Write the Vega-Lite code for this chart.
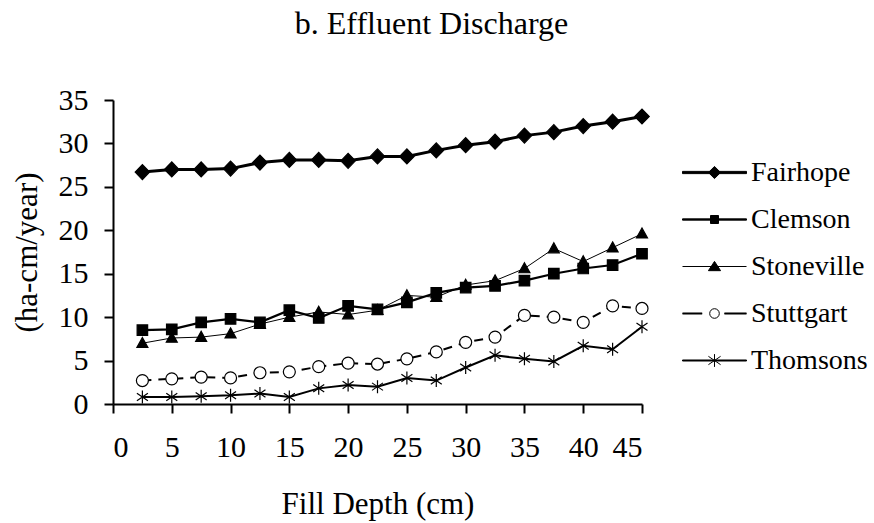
{
  "$schema": "https://vega.github.io/schema/vega-lite/v6.json",
  "width": 529,
  "height": 304,
  "autosize": "none",
  "padding": {"left": 113, "top": 100, "right": 232, "bottom": 119},
  "background": "white",
  "config": {
    "view": {"stroke": null},
    "font": "Liberation Serif",
    "axis": {
      "grid": false,
      "domainColor": "black",
      "domainWidth": 2,
      "tickColor": "black",
      "tickWidth": 2,
      "tickSize": 9,
      "labelFont": "Liberation Serif",
      "labelFontSize": 30,
      "labelColor": "black",
      "titleFont": "Liberation Serif",
      "titleFontSize": 31,
      "titleFontWeight": "normal",
      "titleColor": "black"
    },
    "legend": {
      "title": null,
      "orient": "none",
      "legendX": 569,
      "legendY": 40,
      "padding": 0,
      "symbolSize": 4096,
      "symbolStrokeWidth": 1,
      "symbolOpacity": 1,
      "labelFont": "Liberation Serif",
      "labelFontSize": 28,
      "labelColor": "black",
      "labelOffset": 4,
      "rowPadding": -12
    }
  },
  "title": {
    "text": "b. Effluent Discharge",
    "font": "Liberation Serif",
    "fontSize": 32,
    "fontWeight": "normal",
    "color": "black",
    "anchor": "middle",
    "baseline": "alphabetic",
    "dx": 54,
    "offset": 19
  },
  "data": {
    "values": [
      {"site": "Fairhope", "depth": 2.5, "discharge": 26.7},
      {"site": "Fairhope", "depth": 5, "discharge": 27.0},
      {"site": "Fairhope", "depth": 7.5, "discharge": 27.0},
      {"site": "Fairhope", "depth": 10, "discharge": 27.1},
      {"site": "Fairhope", "depth": 12.5, "discharge": 27.8},
      {"site": "Fairhope", "depth": 15, "discharge": 28.1},
      {"site": "Fairhope", "depth": 17.5, "discharge": 28.1},
      {"site": "Fairhope", "depth": 20, "discharge": 28.0},
      {"site": "Fairhope", "depth": 22.5, "discharge": 28.5},
      {"site": "Fairhope", "depth": 25, "discharge": 28.5},
      {"site": "Fairhope", "depth": 27.5, "discharge": 29.2},
      {"site": "Fairhope", "depth": 30, "discharge": 29.8},
      {"site": "Fairhope", "depth": 32.5, "discharge": 30.2},
      {"site": "Fairhope", "depth": 35, "discharge": 30.9},
      {"site": "Fairhope", "depth": 37.5, "discharge": 31.3},
      {"site": "Fairhope", "depth": 40, "discharge": 32.0},
      {"site": "Fairhope", "depth": 42.5, "discharge": 32.5},
      {"site": "Fairhope", "depth": 45, "discharge": 33.1},
      {"site": "Clemson", "depth": 2.5, "discharge": 8.5},
      {"site": "Clemson", "depth": 5, "discharge": 8.6},
      {"site": "Clemson", "depth": 7.5, "discharge": 9.4},
      {"site": "Clemson", "depth": 10, "discharge": 9.8},
      {"site": "Clemson", "depth": 12.5, "discharge": 9.4},
      {"site": "Clemson", "depth": 15, "discharge": 10.8},
      {"site": "Clemson", "depth": 17.5, "discharge": 9.9},
      {"site": "Clemson", "depth": 20, "discharge": 11.3},
      {"site": "Clemson", "depth": 22.5, "discharge": 10.9},
      {"site": "Clemson", "depth": 25, "discharge": 11.7},
      {"site": "Clemson", "depth": 27.5, "discharge": 12.8},
      {"site": "Clemson", "depth": 30, "discharge": 13.4},
      {"site": "Clemson", "depth": 32.5, "discharge": 13.6},
      {"site": "Clemson", "depth": 35, "discharge": 14.2},
      {"site": "Clemson", "depth": 37.5, "discharge": 15.0},
      {"site": "Clemson", "depth": 40, "discharge": 15.6},
      {"site": "Clemson", "depth": 42.5, "discharge": 16.0},
      {"site": "Clemson", "depth": 45, "discharge": 17.3},
      {"site": "Stoneville", "depth": 2.5, "discharge": 7.0},
      {"site": "Stoneville", "depth": 5, "discharge": 7.6},
      {"site": "Stoneville", "depth": 7.5, "discharge": 7.7},
      {"site": "Stoneville", "depth": 10, "discharge": 8.1},
      {"site": "Stoneville", "depth": 12.5, "discharge": 9.2},
      {"site": "Stoneville", "depth": 15, "discharge": 10.0},
      {"site": "Stoneville", "depth": 17.5, "discharge": 10.6},
      {"site": "Stoneville", "depth": 20, "discharge": 10.3},
      {"site": "Stoneville", "depth": 22.5, "discharge": 10.8},
      {"site": "Stoneville", "depth": 25, "discharge": 12.5},
      {"site": "Stoneville", "depth": 27.5, "discharge": 12.3},
      {"site": "Stoneville", "depth": 30, "discharge": 13.7},
      {"site": "Stoneville", "depth": 32.5, "discharge": 14.2},
      {"site": "Stoneville", "depth": 35, "discharge": 15.6},
      {"site": "Stoneville", "depth": 37.5, "discharge": 17.9},
      {"site": "Stoneville", "depth": 40, "discharge": 16.4},
      {"site": "Stoneville", "depth": 42.5, "discharge": 18.0},
      {"site": "Stoneville", "depth": 45, "discharge": 19.6},
      {"site": "Stuttgart", "depth": 2.5, "discharge": 2.7},
      {"site": "Stuttgart", "depth": 5, "discharge": 2.9},
      {"site": "Stuttgart", "depth": 7.5, "discharge": 3.1},
      {"site": "Stuttgart", "depth": 10, "discharge": 3.0},
      {"site": "Stuttgart", "depth": 12.5, "discharge": 3.6},
      {"site": "Stuttgart", "depth": 15, "discharge": 3.7},
      {"site": "Stuttgart", "depth": 17.5, "discharge": 4.3},
      {"site": "Stuttgart", "depth": 20, "discharge": 4.7},
      {"site": "Stuttgart", "depth": 22.5, "discharge": 4.6},
      {"site": "Stuttgart", "depth": 25, "discharge": 5.2},
      {"site": "Stuttgart", "depth": 27.5, "discharge": 6.0},
      {"site": "Stuttgart", "depth": 30, "discharge": 7.1},
      {"site": "Stuttgart", "depth": 32.5, "discharge": 7.7},
      {"site": "Stuttgart", "depth": 35, "discharge": 10.2},
      {"site": "Stuttgart", "depth": 37.5, "discharge": 10.0},
      {"site": "Stuttgart", "depth": 40, "discharge": 9.4},
      {"site": "Stuttgart", "depth": 42.5, "discharge": 11.3},
      {"site": "Stuttgart", "depth": 45, "discharge": 11.0},
      {"site": "Thomsons", "depth": 2.5, "discharge": 0.8},
      {"site": "Thomsons", "depth": 5, "discharge": 0.8},
      {"site": "Thomsons", "depth": 7.5, "discharge": 0.9},
      {"site": "Thomsons", "depth": 10, "discharge": 1.0},
      {"site": "Thomsons", "depth": 12.5, "discharge": 1.2},
      {"site": "Thomsons", "depth": 15, "discharge": 0.8},
      {"site": "Thomsons", "depth": 17.5, "discharge": 1.8},
      {"site": "Thomsons", "depth": 20, "discharge": 2.2},
      {"site": "Thomsons", "depth": 22.5, "discharge": 2.0},
      {"site": "Thomsons", "depth": 25, "discharge": 3.0},
      {"site": "Thomsons", "depth": 27.5, "discharge": 2.7},
      {"site": "Thomsons", "depth": 30, "discharge": 4.2},
      {"site": "Thomsons", "depth": 32.5, "discharge": 5.6},
      {"site": "Thomsons", "depth": 35, "discharge": 5.2},
      {"site": "Thomsons", "depth": 37.5, "discharge": 4.9},
      {"site": "Thomsons", "depth": 40, "discharge": 6.7},
      {"site": "Thomsons", "depth": 42.5, "discharge": 6.3},
      {"site": "Thomsons", "depth": 45, "discharge": 8.9}
    ]
  },
  "encoding": {
    "x": {
      "field": "depth",
      "type": "quantitative",
      "scale": {"domain": [0, 45], "nice": false, "zero": false},
      "axis": {
        "values": [0, 5, 10, 15, 20, 25, 30, 35, 40, 45],
        "labelPadding": 19,
        "title": "Fill Depth (cm)",
        "titlePadding": 27
      }
    },
    "y": {
      "field": "discharge",
      "type": "quantitative",
      "scale": {"domain": [0, 35], "nice": false},
      "axis": {
        "values": [0, 5, 10, 15, 20, 25, 30, 35],
        "labelPadding": 16,
        "title": "(ha-cm/year)",
        "titlePadding": 15
      }
    }
  },
  "layer": [
    {
      "transform": [{"filter": "datum.site === 'Fairhope'"}],
      "mark": {"type": "line", "color": "black", "strokeWidth": 3}
    },
    {
      "transform": [{"filter": "datum.site === 'Clemson'"}],
      "mark": {"type": "line", "color": "black", "strokeWidth": 2.2}
    },
    {
      "transform": [{"filter": "datum.site === 'Stoneville'"}],
      "mark": {"type": "line", "color": "black", "strokeWidth": 1}
    },
    {
      "transform": [{"filter": "datum.site === 'Stuttgart'"}],
      "mark": {"type": "line", "color": "black", "strokeWidth": 2, "strokeDash": [9, 7]}
    },
    {
      "transform": [{"filter": "datum.site === 'Thomsons'"}],
      "mark": {"type": "line", "color": "black", "strokeWidth": 2}
    },
    {
      "mark": {"type": "point", "opacity": 1, "size": 100, "stroke": "black", "strokeWidth": 1.2},
      "encoding": {
        "shape": {
          "field": "site",
          "type": "nominal",
          "scale": {
            "domain": ["Fairhope", "Clemson", "Stoneville", "Stuttgart", "Thomsons"],
            "range": [
              "M-1.45,0L0,-1.5L1.45,0L0,1.5Z",
              "M-1.05,-1.05H1.05V1.05H-1.05Z",
              "M0,-1.15L1.1,0.85L-1.1,0.85Z",
              "M1.2,0A1.2,1.2 0 1 1 -1.2,0A1.2,1.2 0 1 1 1.2,0Z",
              "M0,-1.3V1.3M-1.1,-0.75L1.1,0.75M-1.1,0.75L1.1,-0.75"
            ]
          },
          "legend": null
        },
        "fill": {
          "field": "site",
          "type": "nominal",
          "scale": {
            "domain": ["Fairhope", "Clemson", "Stoneville", "Stuttgart", "Thomsons"],
            "range": ["black", "black", "black", "white", "black"]
          },
          "legend": null
        }
      }
    },
    {
      "transform": [{"filter": "false"}],
      "mark": {"type": "point", "opacity": 1, "size": 4096, "stroke": "black", "strokeWidth": 1},
      "encoding": {
        "shape": {
          "field": "site",
          "type": "nominal",
          "scale": {
            "domain": ["Fairhope", "Clemson", "Stoneville", "Stuttgart", "Thomsons"],
            "range": [
              "M-1,-0.035H1V0.035H-1ZM0,-0.19L0.19,0L0,0.19L-0.19,0Z",
              "M-1,-0.02H1V0.02H-1ZM-0.125,-0.125H0.125V0.125H-0.125Z",
              "M-1,0H1M0,-0.16L0.19,0.13L-0.19,0.13Z",
              "M-1,-0.016H-0.385M-1,0H-0.385M-1,0.016H-0.385M0.31,-0.016H1M0.31,0H1M0.31,0.016H1M0.15,0A0.15,0.15 0 1 1 -0.15,0A0.15,0.15 0 1 1 0.15,0Z",
              "M-1,-0.016H1V0.016H-1ZM0,-0.2V0.2M-0.19,-0.13L0.19,0.13M-0.19,0.13L0.19,-0.13"
            ]
          },
          "legend": {}
        },
        "fill": {
          "field": "site",
          "type": "nominal",
          "scale": {
            "domain": ["Fairhope", "Clemson", "Stoneville", "Stuttgart", "Thomsons"],
            "range": ["black", "black", "black", "white", "black"]
          },
          "legend": {}
        },
        "stroke": {
          "field": "site",
          "type": "nominal",
          "scale": {
            "domain": ["Fairhope", "Clemson", "Stoneville", "Stuttgart", "Thomsons"],
            "range": ["black", "black", "black", "black", "black"]
          },
          "legend": {}
        }
      }
    }
  ],
  "resolve": {"scale": {"shape": "independent", "fill": "independent", "stroke": "independent"}}
}
